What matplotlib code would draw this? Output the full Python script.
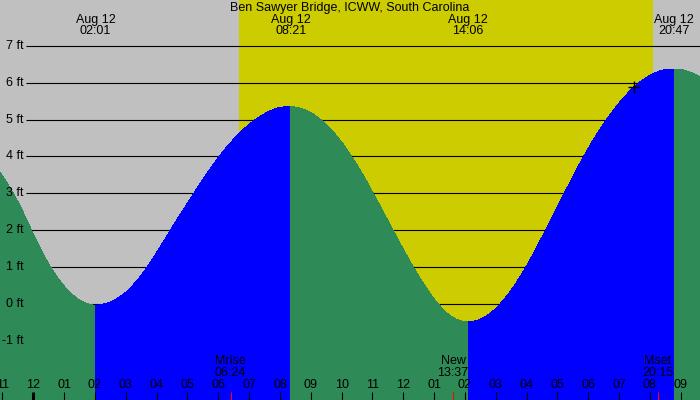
import matplotlib
matplotlib.use("Agg")
import matplotlib.pyplot as plt
from matplotlib.path import Path
from matplotlib.patches import PathPatch
import numpy as np

# ---- data ----
title = "Ben Sawyer Bridge, ICWW, South Carolina"
# tide series: hours from midnight Aug 12, height in ft
tide_hours = [-1.2, -1.08, -1.0, -0.5, 0.0, 0.5, 1.0, 1.5, 2.017,
              2.5, 3.0, 3.5, 4.0, 4.5, 5.0, 5.5, 6.0, 6.5, 7.0, 7.5, 8.0, 8.35,
              8.5, 9.0, 9.5, 10.0, 10.5, 11.0, 11.5, 12.0, 12.5, 13.0, 13.5, 13.8, 14.1,
              14.5, 15.0, 15.5, 16.0, 16.5, 17.0, 17.5, 18.0, 18.5, 19.0, 19.5, 20.0, 20.5, 20.783,
              21.0, 21.5, 21.7]
tide_ft = [3.69, 3.56, 3.47, 2.77, 1.90, 1.08, 0.48, 0.10, -0.04,
           0.05, 0.31, 0.77, 1.39, 2.07, 2.73, 3.37, 3.97, 4.47, 4.87, 5.16, 5.33, 5.35,
           5.34, 5.19, 4.87, 4.39, 3.77, 3.04, 2.26, 1.48, 0.75, 0.13, -0.31, -0.45, -0.49,
           -0.42, -0.13, 0.37, 1.03, 1.81, 2.63, 3.45, 4.22, 4.89, 5.45, 5.90, 6.20, 6.36, 6.37,
           6.36, 6.22, 6.14]
extreme_hours = [2.017, 8.35, 14.1, 20.783]
extreme_dates = ["Aug 12", "Aug 12", "Aug 12", "Aug 12"]
extreme_times = ["02:01", "08:21", "14:06", "20:47"]
sunrise_h = 6.67
sunset_h = 20.11
moon_hours = [6.4, 13.617, 20.25]
moon_names = ["Mrise", "New", "Mset"]
moon_times = ["06:24", "13:37", "20:15"]
marker_h = 19.49
marker_ft = 5.9
ft_levels = [7, 6, 5, 4, 3, 2, 1, 0, -1]
hour_ticks = list(range(-1, 22))
hour_labels = ["11", "12", "01", "02", "03", "04", "05", "06", "07", "08", "09", "10",
               "11", "12", "01", "02", "03", "04", "05", "06", "07", "08", "09"]

plt.rcParams["font.family"] = ["Liberation Sans", "DejaVu Sans"]

# ---- figure ----
W, H = 700, 400
fig = plt.figure(figsize=(7, 4), dpi=100)
ax = fig.add_axes([0, 0, 1, 1])
x0, x1 = -1.080, 21.625
y0, y1 = -2.616, 8.25
ax.set_xlim(x0, x1)
ax.set_ylim(y0, y1)
ax.axis("off")

gray = "#c0c0c0"
yellow = "#cccc00"
green = "#2e8b57"
blue = "#0000ff"

ax.axvspan(x0, sunrise_h, color=gray, lw=0, zorder=0)
ax.axvspan(sunrise_h, sunset_h, color=yellow, lw=0, zorder=0)
ax.axvspan(sunset_h, x1, color=gray, lw=0, zorder=0)

yt = ax.get_yaxis_transform()
xt = ax.get_xaxis_transform()
fs = 9
for lv in ft_levels:
    ax.plot([26 / W, 1], [lv, lv], transform=yt, color="black", lw=0.8, zorder=1,
            solid_capstyle="butt")
    ax.text(24 / W, lv, f"{lv} ft", transform=yt, ha="right", va="center",
            fontsize=fs, color="black", zorder=5)


def smooth_fill(ts, hs, ext_start, ext_end, color):
    """Fill under a smooth curve passing through the given points (cubic Hermite path)."""
    n = len(ts)
    dt = np.diff(ts)
    s = np.diff(hs) / dt
    m = np.zeros(n)
    for i in range(1, n - 1):
        m[i] = (s[i - 1] * dt[i] + s[i] * dt[i - 1]) / (dt[i - 1] + dt[i])
    m[0] = 0.0 if ext_start else s[0]
    m[-1] = 0.0 if ext_end else s[-1]
    verts = [(ts[0], y0), (ts[0], hs[0])]
    codes = [Path.MOVETO, Path.LINETO]
    for i in range(n - 1):
        d = dt[i] / 3.0
        verts += [(ts[i] + d, hs[i] + m[i] * d),
                  (ts[i + 1] - d, hs[i + 1] - m[i + 1] * d),
                  (ts[i + 1], hs[i + 1])]
        codes += [Path.CURVE4] * 3
    verts += [(ts[-1], y0), (ts[0], y0)]
    codes += [Path.LINETO, Path.CLOSEPOLY]
    ax.add_patch(PathPatch(Path(verts, codes), facecolor=color, edgecolor="none",
                           lw=0, zorder=2, antialiased=False, transform=ax.transData))


t = np.array(tide_hours)
h = np.array(tide_ft)
bounds = [t[0]] + extreme_hours + [t[-1]]
for k, (a, b) in enumerate(zip(bounds[:-1], bounds[1:])):
    msk = (t >= a - 1e-9) & (t <= b + 1e-9)
    seg_t, seg_h = t[msk], h[msk]
    col = blue if seg_h[-1] > seg_h[0] else green
    smooth_fill(seg_t, seg_h, k > 0, k < len(bounds) - 2, col)

ax.plot([marker_h], [marker_ft], marker="+", color="black", ms=8, mew=1.0, zorder=4)

# title and extreme labels
ax.text(0.5, 1 - 8 / H, title, transform=ax.transAxes, ha="center", va="center",
        fontsize=fs, zorder=5)
for eh, ed, et in zip(extreme_hours, extreme_dates, extreme_times):
    ax.text(eh, 1 - 19.5 / H, ed, transform=xt, ha="center", va="center", fontsize=fs, zorder=5)
    ax.text(eh, 1 - 31.5 / H, et, transform=xt, ha="center", va="center", fontsize=fs, zorder=5)

# moon events
for mh, mn, mt in zip(moon_hours, moon_names, moon_times):
    ax.text(mh, 38.5 / H, mn, transform=xt, ha="center", va="center", fontsize=fs, zorder=5)
    ax.text(mh, 26.5 / H, mt, transform=xt, ha="center", va="center", fontsize=fs, zorder=5)
    ax.plot([mh, mh], [0, 8 / H], transform=xt, color="red", lw=0.8, zorder=5,
            solid_capstyle="butt")

# hour ticks
for hh, lab in zip(hour_ticks, hour_labels):
    lw = 2.2 if hh % 24 == 0 else 0.8
    ax.plot([hh, hh], [0, 8 / H], transform=xt, color="black", lw=lw, zorder=5,
            solid_capstyle="butt")
    ax.text(hh, 14.5 / H, lab, transform=xt, ha="center", va="center", fontsize=fs, zorder=5)

fig.savefig("out.png", dpi=100)
